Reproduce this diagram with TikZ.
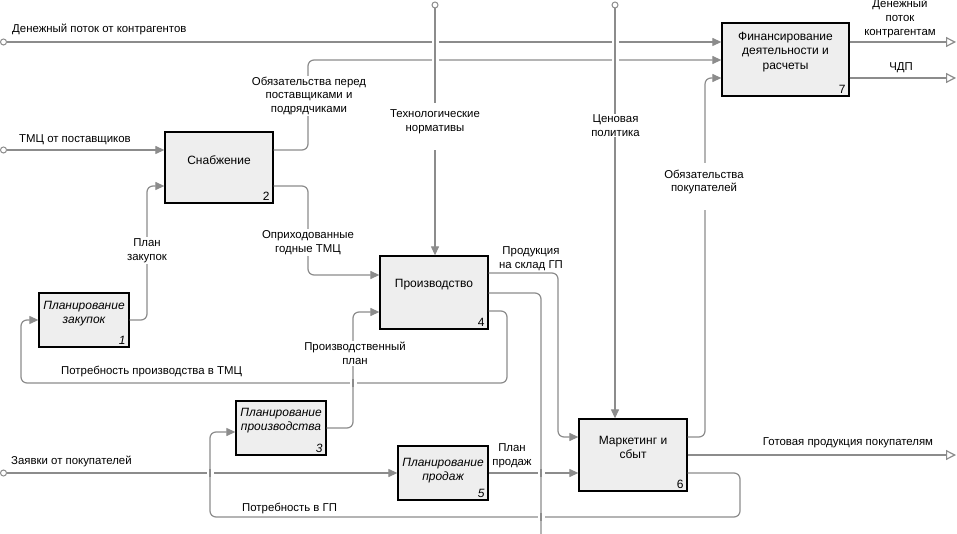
\documentclass[tikz,border=0pt]{standalone}
\usepackage{fontspec}
\setmainfont{Liberation Sans}
\usetikzlibrary{arrows.meta}
\definecolor{lc}{HTML}{8C8C8C}
\definecolor{bf}{HTML}{EEEEEE}
\newcommand\vcrossing[2]{%
  \fill[white] ({#1-3.5},{#2-3}) rectangle ({#1+3.5},{#2+3});
  \draw[draw=lc, line width=1.2pt] (#1,{#2-4}) -- (#1,{#2+4});}
\begin{document}
\begin{tikzpicture}[x=1pt,y=-1pt,
  box/.style={draw=black, line width=1.3pt, fill=bf, inner sep=0pt},
  btxt/.style={font=\fontsize{12}{14.5}\selectfont, align=center, inner sep=0pt},
  itxt/.style={font=\fontsize{12}{14}\selectfont\itshape, align=center, inner sep=0pt},
  num/.style={font=\fontsize{12}{14}\selectfont, anchor=south east, inner xsep=4pt, inner ysep=3pt},
  inum/.style={num, font=\fontsize{12}{14}\selectfont\itshape},
  flow/.style={draw=lc, line width=1.2pt, rounded corners=6pt, -{Triangle[length=9pt,width=8pt]}},
  outflow/.style={draw=lc, line width=1.2pt, rounded corners=6pt, -{Triangle[open,length=10pt,width=10pt,fill=white]}},
  flowplain/.style={draw=lc, line width=1.2pt, rounded corners=6pt},
  lbl/.style={font=\fontsize{11.4}{13.8}\selectfont, align=center, fill=white, inner sep=1pt},
  lblw/.style={lbl, anchor=west},
  src/.style={circle, draw=lc, line width=1pt, fill=white, minimum size=6pt, inner sep=0pt},
]
\useasboundingbox (0,0) rectangle (957,534);
\fill[white] (0,0) rectangle (957,534);

% boxes
\node[box, minimum width=90pt, minimum height=54pt] (b1) at (84,320) {};
\node[box, minimum width=108pt, minimum height=71pt] (b2) at (219,167.5) {};
\node[box, minimum width=90pt, minimum height=54pt] (b3) at (281,428) {};
\node[box, minimum width=108pt, minimum height=73pt] (b4) at (434,292.5) {};
\node[box, minimum width=90pt, minimum height=54pt] (b5) at (443,473) {};
\node[box, minimum width=108pt, minimum height=72pt] (b6) at (633,455) {};
\node[box, minimum width=127pt, minimum height=73pt] (b7) at (785.5,59.5) {};

\node[itxt] (t1) at ([yshift=6pt]b1.center) {Планирование\\закупок};
\node[btxt] (t2) at ([yshift=7.5pt]b2.center) {Снабжение};
\node[itxt] (t3) at ([yshift=7pt]b3.center) {Планирование\\производства};
\node[btxt] (t4) at ([yshift=7.5pt]b4.center) {Производство};
\node[itxt] (t5) at ([yshift=2pt]b5.center) {Планирование\\продаж};
\node[btxt] (t6) at ([yshift=7.5pt]b6.center) {Маркетинг и\\сбыт};
\node[btxt] (t7) at ([yshift=7.5pt]b7.center) {Финансирование\\деятельности и\\расчеты};

\node[inum] (n1) at (b1.south east) {1};
\node[num] (n2) at (b2.south east) {2};
\node[inum] (n3) at (b3.south east) {3};
\node[num] (n4) at (b4.south east) {4};
\node[inum] (n5) at (b5.south east) {5};
\node[num] (n6) at (b6.south east) {6};
\node[num] (n7) at (b7.south east) {7};

% sources and free ends
\node[src] (s1) at (3.5,42) {};
\node[src] (s3) at (3.5,150) {};
\node[src] (s4) at (435,5) {};
\node[src] (s5) at (615,5) {};
\node[src] (s16) at (3.5,473) {};
\coordinate (e6) at (956,42);
\coordinate (e7) at (956,78);
\coordinate (e18) at (956,455);
\coordinate (e14) at (541,534);

% connectors
\draw[flow] (s1) -- (s1 -| b7.west);
\draw[flow] (b2.east |- 0,150) -- (308,150) -- (308,60) -- (b7.west |- 0,60);
\draw[flow] (s3) -- (s3 -| b2.west);
\draw[outflow] (b7.east |- e6) -- (e6);
\draw[outflow] (b7.east |- e7) -- (e7);
\draw[flow] (b6.east |- 0,437) -- (705,437) -- (705,78) -- (b7.west |- 0,78);
\draw[flow] (b1.east |- 0,320) -- (147,320) -- (147,186) -- (b2.west |- 0,186);
\draw[flow] (b2.east |- 0,186) -- (308,186) -- (308,275) -- (b4.west |- 0,275);
\draw[flow] (b3.east |- 0,428) -- (353,428) -- (353,312) -- (b4.west |- 0,312);
\draw[flow] (b4.east |- 0,311) -- (507,311) -- (507,383) -- (21,383) -- (21,320) -- (b1.west);
\draw[flow] (b4.east |- 0,273) -- (558,273) -- (558,437) -- (b6.west |- 0,437);
\draw[flowplain] (b4.east |- 0,293) -- (541,293) -- (e14);
\draw[flow] (b5.east |- 0,473) -- (b6.west |- 0,473);
\draw[flow] (s16) -- (s16 -| b5.west);
\draw[flow] (b6.east |- 0,473) -- (740,473) -- (740,517) -- (210,517) -- (210,432) -- (b3.west |- 0,432);
\draw[outflow] (b6.east |- e18) -- (e18);
\draw[flow] (s4) -- (s4 |- b4.north);
\draw[flow] (s5) -- (s5 |- b6.north);

% crossings
\vcrossing{435}{42}
\vcrossing{435}{60}
\vcrossing{615}{42}
\vcrossing{615}{60}
\vcrossing{541}{473}
\vcrossing{541}{517}
\vcrossing{210}{473}
\vcrossing{353}{383}

% label clearances
\fill[white] (431,103) rectangle (439,150);
\fill[white] (701,163) rectangle (709,210);

% labels
\node[lblw] (l1) at (11,29) {Денежный поток от контрагентов};
\node[lbl] (l2) at (309,96) {Обязательства перед\\поставщиками и\\подрядчиками};
\node[lblw] (l3) at (18,140) {ТМЦ от поставщиков};
\node[lbl] (l4) at (435,121.5) {Технологические\\нормативы};
\node[lbl] (l5) at (615.5,125.5) {Ценовая\\политика};
\node[lbl] (l6) at (900,18.5) {Денежный\\поток\\контрагентам};
\node[lbl] (l7) at (901,68) {ЧДП};
\node[lbl] (l8) at (704,182) {Обязательства\\покупателей};
\node[lbl] (l9) at (147,250.5) {План\\закупок};
\node[lbl] (l10) at (308,242.5) {Оприходованные\\годные ТМЦ};
\node[lbl] (l11) at (355,353.5) {Производственный\\план};
\node[lblw] (l12) at (60,372) {Потребность производства в ТМЦ};
\node[lbl] (l13) at (531,258.5) {Продукция\\на склад ГП};
\node[lbl] (l15) at (512,455.5) {План\\продаж};
\node[lblw] (l16) at (10,461) {Заявки от покупателей};
\node[lblw] (l17) at (241,508) {Потребность в ГП};
\node[lbl] (l18) at (848,443) {Готовая продукция покупателям};
\end{tikzpicture}
\end{document}
